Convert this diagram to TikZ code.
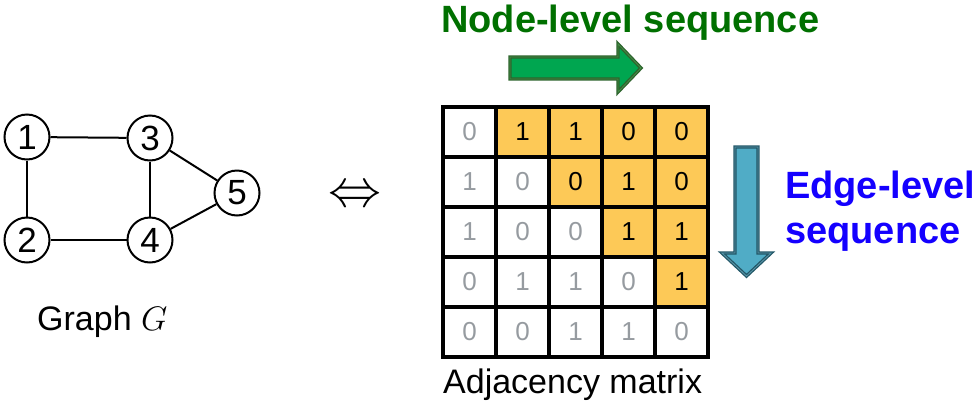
\RequirePackage{fix-cm}
\documentclass[tikz,border=0pt]{standalone}
\usepackage{fontspec}
\setmainfont{Liberation Sans}
\usetikzlibrary{positioning}
\definecolor{cellyellow}{RGB}{253,201,87}
\definecolor{zerogray}{RGB}{150,155,160}
\definecolor{nodegreen}{RGB}{0,112,0}
\definecolor{edgeblue}{RGB}{20,0,255}
\definecolor{garrowfill}{RGB}{0,166,80}
\definecolor{garrowdark}{RGB}{45,100,45}
\definecolor{garrowmid}{RGB}{70,140,70}
\definecolor{barrowfill}{RGB}{80,172,198}
\definecolor{barrowdark}{RGB}{35,88,104}
\definecolor{barrowmid}{RGB}{90,150,170}

\begin{document}
\begin{tikzpicture}[x=1pt,y=-1pt,
  vert/.style={draw, circle, line width=2pt, minimum size=45pt, inner sep=0pt,
    font=\fontsize{35}{35}\selectfont},
  gedge/.style={line width=2pt},
  cell/.style={draw, line width=3.5pt, minimum width=53pt, minimum height=50pt,
    inner sep=0pt, font=\fontsize{26}{26}\selectfont},
  hicell/.style={cell, fill=cellyellow, text=black},
  locell/.style={cell, fill=white, text=zerogray},
  caption/.style={anchor=base west, inner sep=0pt, font=\fontsize{34}{34}\selectfont},
  seqlabel/.style={anchor=base west, inner sep=0pt, font=\fontsize{38}{38}\selectfont\bfseries}]
\useasboundingbox (0,0) rectangle (977,413);

% graph
\node[vert] (n1) at (27,137) {1};
\node[vert] (n3) at (150,138) {3};
\node[vert] (n2) at (27,240) {2};
\node[vert] (n4) at (150,240) {4};
\node[vert] (n5) at (237,193) {5};
\draw[gedge] (n1) -- (n3);
\draw[gedge] (n1) -- (n2);
\draw[gedge] (n2) -- (n4);
\draw[gedge] (n3) -- (n4);
\draw[gedge] (n3) -- (n5);
\draw[gedge] (n4) -- (n5);
\node[caption] (glabel) at (37,330) {Graph $G$};

\node[font=\fontsize{53}{53}\selectfont, inner sep=0pt] (equiv) at (355,197) {$\Leftrightarrow$};

% adjacency matrix
\foreach \row [count=\i] in {{0,1,1,0,0},{1,0,0,1,0},{1,0,0,1,1},{0,1,1,0,1},{0,0,1,1,0}} {
  \foreach \v [count=\j] in \row {
    \ifnum\j>\i \def\cellkind{hicell}\else\def\cellkind{locell}\fi
    \node[\cellkind] (m\i\j) at ({443+53*(\j-0.5)},{107+50*(\i-0.5)}) {\v};
  }
}
\node[caption] (mlabel) at (443,393) {Adjacency matrix};

% sequence arrows
\draw[line width=1.3pt, draw=garrowdark, double=garrowmid, double distance=0.8pt, fill=garrowfill]
  (510,57) -- (618,57) -- (618,44) -- (641,68) -- (618,92) -- (618,79) -- (510,79) -- cycle;
\node[seqlabel, text=nodegreen] (nodeseq) at (441,32) {Node-level sequence};

\draw[line width=1.3pt, draw=barrowdark, double=barrowmid, double distance=0.8pt, fill=barrowfill]
  (735,147) -- (758,147) -- (758,253) -- (771,253) -- (746.5,276) -- (722,253) -- (735,253) -- cycle;
\node[seqlabel, text=edgeblue] (edgeseq1) at (785,198) {Edge-level};
\node[seqlabel, text=edgeblue] (edgeseq2) at (785,243) {sequence};
\end{tikzpicture}
\end{document}
